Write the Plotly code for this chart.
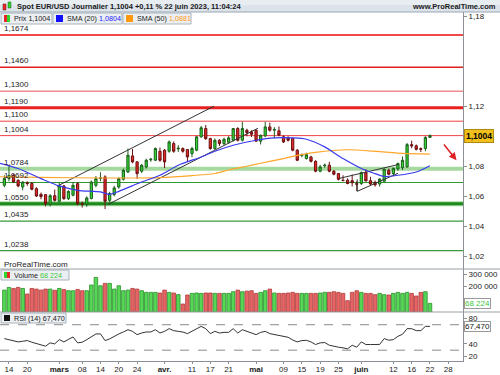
import plotly.graph_objects as go
import pandas as pd

# ---------------- data ----------------
start_date = "2023-02-13"
end_date = "2023-06-22"

opens = [1.0673,1.0718,1.0740,1.0707,1.0662,1.0690,1.0685,1.0651,1.0613,1.0611,
         1.0549,1.0604,1.0567,1.0669,1.0584,1.0607,1.0684,1.0551,1.0549,1.0585,
         1.0673,1.0718,1.0729,1.0573,1.0611,1.0662,1.0713,1.0762,1.0869,1.0829,
         1.0767,1.0795,1.0843,1.0840,1.0900,1.0907,1.0900,1.0951,1.0915,1.0918,
         1.0911,1.0884,1.0907,1.0996,1.1051,1.0984,1.0918,1.0973,1.0951,1.0960,
         1.0973,1.1051,1.0973,1.1040,1.1029,1.1040,1.0967,1.1002,1.1062,1.1040,
         1.1036,1.0996,1.0989,1.0984,1.0907,1.0872,1.0851,1.0862,1.0833,1.0767,
         1.0803,1.0807,1.0767,1.0751,1.0707,1.0707,1.0704,1.0685,1.0685,1.0758,
         1.0704,1.0693,1.0682,1.0700,1.0773,1.0751,1.0782,1.0790,1.0796,1.0944,
         1.0936,1.0918,1.0918,1.0992]
highs = [1.0740,1.0805,1.0748,1.0712,1.0700,1.0700,1.0695,1.0660,1.0625,1.0615,
         1.0615,1.0645,1.0690,1.0675,1.0640,1.0695,1.0695,1.0565,1.0600,1.0705,
         1.0735,1.0760,1.0740,1.0630,1.0670,1.0725,1.0785,1.0918,1.0915,1.0835,
         1.0815,1.0850,1.0855,1.0925,1.0925,1.0915,1.0972,1.0965,1.0940,1.0925,
         1.0915,1.0930,1.1000,1.1068,1.1075,1.0990,1.0985,1.0980,1.0990,1.1000,
         1.1055,1.1060,1.1096,1.1050,1.1040,1.1045,1.1010,1.1096,1.1090,1.1060,
         1.1065,1.1005,1.1000,1.0990,1.0915,1.0885,1.0890,1.0870,1.0840,1.0810,
         1.0818,1.0830,1.0775,1.0755,1.0740,1.0720,1.0745,1.0700,1.0765,1.0780,
         1.0730,1.0705,1.0720,1.0785,1.0785,1.0790,1.0825,1.0865,1.0955,1.0970,
         1.0945,1.0925,1.1000,1.1012]
lows = [1.0660,1.0700,1.0690,1.0660,1.0640,1.0670,1.0640,1.0595,1.0580,1.0533,
        1.0532,1.0565,1.0560,1.0577,1.0575,1.0600,1.0540,1.0525,1.0530,1.0580,
        1.0660,1.0700,1.0515,1.0560,1.0600,1.0650,1.0705,1.0755,1.0820,1.0715,
        1.0755,1.0785,1.0830,1.0835,1.0830,1.0788,1.0890,1.0890,1.0895,1.0890,
        1.0830,1.0860,1.0900,1.0990,1.0975,1.0910,1.0910,1.0935,1.0940,1.0950,
        1.0965,1.0965,1.0965,1.1000,1.0995,1.0965,1.0945,1.0995,1.1030,1.0985,
        1.1000,1.0955,1.0965,1.0900,1.0835,1.0860,1.0845,1.0825,1.0760,1.0760,
        1.0790,1.0760,1.0740,1.0705,1.0700,1.0680,1.0665,1.0635,1.0675,1.0700,
        1.0675,1.0665,1.0665,1.0695,1.0740,1.0735,1.0770,1.0775,1.0790,1.0920,
        1.0905,1.0895,1.0900,1.0990]
closes = [1.0718,1.0738,1.0695,1.0669,1.0695,1.0685,1.0647,1.0602,1.0598,1.0551,
          1.0604,1.0573,1.0669,1.0584,1.0633,1.0673,1.0551,1.0548,1.0589,1.0695,
          1.0718,1.0722,1.0567,1.0618,1.0656,1.0718,1.0773,1.0873,1.0829,1.0751,
          1.0807,1.0840,1.0847,1.0918,1.0840,1.0829,1.0962,1.0900,1.0920,1.0900,
          1.0862,1.0918,1.0996,1.1056,1.0984,1.0918,1.0973,1.0951,1.0980,1.0989,
          1.1051,1.0973,1.1051,1.1024,1.1013,1.0967,1.1007,1.1062,1.1040,1.1045,
          1.1007,1.0962,1.0973,1.0907,1.0840,1.0876,1.0878,1.0833,1.0767,1.0796,
          1.0807,1.0767,1.0747,1.0713,1.0705,1.0685,1.0690,1.0680,1.0758,1.0702,
          1.0682,1.0676,1.0715,1.0780,1.0747,1.0787,1.0818,1.0840,1.0944,1.0936,
          1.0913,1.0913,1.0992,1.1004]
volumes = [173000,194000,186000,194000,186000,142000,186000,181000,173000,181000,
           181000,171000,186000,178000,168000,168000,178000,168000,168000,213000,
           273000,207000,226000,226000,181000,207000,168000,173000,186000,181000,
           168000,155000,155000,155000,150000,173000,155000,150000,137000,63000,
           134000,147000,150000,147000,150000,150000,147000,147000,147000,147000,
           160000,173000,160000,165000,168000,147000,155000,168000,181000,150000,
           147000,147000,150000,155000,147000,147000,147000,147000,147000,150000,
           155000,155000,160000,155000,147000,89000,155000,168000,155000,147000,
           147000,137000,147000,137000,134000,147000,155000,147000,155000,147000,
           126000,155000,160000,68224]
rsi = [48.2,46.1,44.5,43.0,44.0,45.1,42.5,40.5,38.9,36.3,
       41.5,39.9,46.6,43.0,47.0,50.8,41.5,42.5,46.6,50.5,
       55.5,55.5,45.1,47.7,51.8,55.5,58.6,62.2,59.6,54.4,
       57.0,58.6,58.6,62.2,57.0,59.6,63.8,60.7,59.6,58.5,
       56.0,59.6,63.8,67.4,63.8,56.0,59.6,57.0,58.0,58.0,
       63.8,57.0,62.2,59.6,57.0,54.4,58.0,59.6,56.0,54.4,
       53.0,51.8,50.3,46.0,43.0,45.1,45.5,43.0,38.9,41.5,
       42.0,37.8,36.0,34.7,33.7,32.1,37.8,34.7,43.0,38.9,
       38.9,38.5,39.0,48.2,45.6,46.6,51.8,55.0,63.8,63.8,
       60.7,60.7,67.4,67.47]

sma20_idx = [-1, 3, 8, 12, 16, 21, 23, 25, 30, 34, 38, 43, 46, 50, 55, 59, 63, 66, 70, 74, 78, 81, 83, 86, 90, 93]
sma20_val = [1.0820, 1.0785, 1.0718, 1.0669, 1.0640, 1.0629, 1.0613, 1.0633, 1.0695, 1.0740, 1.0807,
             1.0862, 1.0900, 1.0940, 1.0973, 1.0989, 1.0989, 1.0980, 1.0929, 1.0851, 1.0785, 1.0751,
             1.0732, 1.0740, 1.0762, 1.0804]
sma50_idx = [-1, 8, 21, 34, 41, 46, 49, 53, 56, 61, 64, 68, 75, 82, 87, 93]
sma50_val = [1.0730, 1.0726, 1.0722, 1.0725, 1.0738, 1.0752, 1.0775, 1.0800, 1.0820, 1.0851,
             1.0872, 1.0893, 1.0910, 1.0897, 1.0886, 1.0881]

support_levels = [1.1674, 1.1460, 1.1300, 1.1190, 1.1100, 1.1004, 1.0784, 1.0692, 1.0550, 1.0435, 1.0238]
support_labels = ["1,1674", "1,1460", "1,1300", "1,1190", "1,1100", "1,1004", "1,0784", "1,0692", "1,0550", "1,0435", "1,0238"]

# trendlines (candle index, price)
trend_lines = {
    "channel_up": ([11.5, 45.8], [1.0667, 1.1200]),
    "channel_low": ([22.6, 55.4], [1.0545, 1.1053]),
    "tri_top": ([73.3, 86.0], [1.0720, 1.0811]),
    "tri_bot": ([77.1, 86.0], [1.0633, 1.0753]),
    "tri_side": ([77.1, 77.1], [1.0633, 1.0713]),
}
arrow_from = (95.8, 1.0955)
arrow_to = (98.8, 1.0840)

tick_dates = ["2023-02-14", "2023-02-20", "2023-03-01", "2023-03-08", "2023-03-14", "2023-03-20",
              "2023-03-24", "2023-04-03", "2023-04-11", "2023-04-17", "2023-04-21", "2023-05-01",
              "2023-05-09", "2023-05-15", "2023-05-19", "2023-05-25", "2023-06-01", "2023-06-12",
              "2023-06-16", "2023-06-22", "2023-06-28"]
tick_text = ["14", "20", "<b>mars</b>", "08", "14", "20", "24", "<b>avr.</b>", "11", "17", "21",
             "<b>mai</b>", "09", "15", "19", "25", "<b>juin</b>", "12", "16", "22", "28"]

# ticks hidden behind the value boxes in the reference keep their mark but no text
price_ticks = [1.02, 1.04, 1.06, 1.08, 1.12, 1.18]
price_tick_text = ["1,02", "1,04", "1,06", "1,08", "1,12", "1,18"]
vol_ticks = [100000, 200000, 300000]
vol_tick_text = ["", "200 000", "300 000"]
rsi_ticks = [20, 40, 60, 80]
rsi_tick_text = ["20", "40", "", "80"]

# ---------------- geometry helpers ----------------
W, H = 500, 375
ML, MR, MT, MB = 0, 37, 12, 14
PW, PH = W - ML - MR, H - MT - MB


def px(x):
    return (x - ML) / PW


def py(y):
    return (H - MB - y) / PH


dates = pd.bdate_range(start_date, end_date)
xi = list(range(len(dates)))
ext = pd.bdate_range(start_date, "2023-08-31")
pos = {d.strftime("%Y-%m-%d"): i for i, d in enumerate(ext)}
tick_vals = [pos[d] for d in tick_dates]

font_family = "Liberation Sans, Arial, sans-serif"
GREEN = "#2ed62e"
RED = "#e82828"

fig = go.Figure()

# support / resistance lines
line_styles = {
    1.1674: ("#f04a4a", 2), 1.1460: ("#e02020", 1.5), 1.1300: ("#f05050", 1),
    1.1190: ("#e82020", 3), 1.1100: ("#f04040", 1), 1.1004: ("#f04040", 1),
    1.0784: ("#a6d9a0", 4), 1.0692: ("#2f9a2f", 1.2), 1.0550: ("#1e8a1e", 3),
    1.0435: ("#3a9a3a", 1.2), 1.0238: ("#3a9a3a", 1.2),
}
shapes = []
annotations = []
for lv, lab in zip(support_levels, support_labels):
    c, w = line_styles[lv]
    if lv == 1.0550:
        shapes.append(dict(type="line", xref="paper", yref="y", x0=0, x1=1, y0=lv, y1=lv,
                           line=dict(color="#a6d9a0", width=5), layer="below"))
    shapes.append(dict(type="line", xref="paper", yref="y", x0=0, x1=1, y0=lv, y1=lv,
                       line=dict(color=c, width=w), layer="below"))
    annotations.append(dict(x=px(2), y=lv, xref="paper", yref="y", text=lab, showarrow=False,
                            xanchor="left", yanchor="bottom", yshift=0,
                            font=dict(size=8, color="#222", family=font_family)))

# trendlines
for name, (tx, ty) in trend_lines.items():
    fig.add_trace(go.Scatter(x=tx, y=ty, mode="lines", line=dict(color="#333333", width=1),
                             hoverinfo="skip", showlegend=False, xaxis="x", yaxis="y"))

# moving averages
fig.add_trace(go.Scatter(x=sma50_idx, y=sma50_val, mode="lines",
                         line=dict(color="#ffa62b", width=1.2, shape="spline", smoothing=0.8),
                         showlegend=False, xaxis="x", yaxis="y"))
fig.add_trace(go.Scatter(x=sma20_idx, y=sma20_val, mode="lines",
                         line=dict(color="#3a3aee", width=1.2, shape="spline", smoothing=0.8),
                         showlegend=False, xaxis="x", yaxis="y"))

# candles
fig.add_trace(go.Candlestick(x=xi, open=opens, high=highs, low=lows, close=closes,
                             increasing=dict(line=dict(color="#1f5f1f", width=1), fillcolor=GREEN),
                             decreasing=dict(line=dict(color="#6a1010", width=1), fillcolor=RED),
                             whiskerwidth=0, showlegend=False, xaxis="x", yaxis="y"))

# volume
vcol = ["#56d856" if c >= o else "#e66464" for o, c in zip(opens, closes)]
vline = ["#2a8f2a" if c >= o else "#b23a3a" for o, c in zip(opens, closes)]
fig.add_trace(go.Bar(x=xi, y=volumes, marker=dict(color=vcol, line=dict(color=vline, width=0.8)),
                     width=0.78, showlegend=False, xaxis="x2", yaxis="y2"))

# RSI
fig.add_trace(go.Scatter(x=xi, y=rsi, mode="lines", line=dict(color="#333333", width=1),
                         showlegend=False, xaxis="x3", yaxis="y3"))
for lv in (70, 30):
    shapes.append(dict(type="line", xref="paper", yref="y3", x0=0, x1=1, y0=lv, y1=lv,
                       line=dict(color="#8a8a8a", width=1, dash="dash"), layer="below"))

# arrow
annotations.append(dict(x=arrow_to[0], y=arrow_to[1], ax=arrow_from[0], ay=arrow_from[1],
                        xref="x", yref="y", axref="x", ayref="y", showarrow=True, text="",
                        arrowhead=2, arrowsize=1, arrowwidth=1.5, arrowcolor="#e02020"))

# header bar
shapes.append(dict(type="rect", xref="paper", yref="paper", x0=px(0), x1=px(500), y0=py(12), y1=py(0),
                   fillcolor="#dce3ea", line=dict(width=0), layer="above"))
shapes.append(dict(type="rect", xref="paper", yref="paper", x0=px(0), x1=px(500), y0=py(5), y1=py(0),
                   fillcolor="#e8edf2", line=dict(width=0), layer="above"))
shapes.append(dict(type="line", xref="paper", yref="paper", x0=px(0), x1=px(500), y0=py(12), y1=py(12),
                   line=dict(color="#9aa6b2", width=1), layer="above"))
# header icon
shapes.append(dict(type="rect", xref="paper", yref="paper", x0=px(3), x1=px(6), y0=py(10), y1=py(4),
                   fillcolor=RED, line=dict(color="#6a1010", width=0.5), layer="above"))
shapes.append(dict(type="rect", xref="paper", yref="paper", x0=px(8), x1=px(11), y0=py(8), y1=py(2),
                   fillcolor=GREEN, line=dict(color="#1f5f1f", width=0.5), layer="above"))
annotations.append(dict(x=px(15), y=py(6.5), xref="paper", yref="paper", xanchor="left", yanchor="middle",
                        showarrow=False,
                        text="<b>Spot EUR/USD Journalier 1,1004 +0,11 % 22 juin 2023, 11:04:24</b>",
                        font=dict(size=7.5, color="#1a1a1a", family=font_family)))
annotations.append(dict(x=px(498), y=py(6.5), xref="paper", yref="paper", xanchor="right", yanchor="middle",
                        showarrow=False, text="<b>www.ProRealTime.com</b>",
                        font=dict(size=7.5, color="#1a1a1a", family=font_family)))

# legend boxes (price panel)
def legend_box(x0, x1, y0, y1):
    shapes.append(dict(type="rect", xref="paper", yref="paper", x0=px(x0), x1=px(x1), y0=py(y1), y1=py(y0),
                       fillcolor="#eceff2", line=dict(color="#a8b2bc", width=1), layer="above"))


legend_box(1, 52, 13, 24)
legend_box(53, 122, 13, 24)
legend_box(123, 191, 13, 24)
shapes.append(dict(type="rect", xref="paper", yref="paper", x0=px(4), x1=px(7), y0=py(22), y1=py(15),
                   fillcolor=RED, line=dict(width=0), layer="above"))
shapes.append(dict(type="rect", xref="paper", yref="paper", x0=px(7), x1=px(10), y0=py(22), y1=py(15),
                   fillcolor=GREEN, line=dict(width=0), layer="above"))
shapes.append(dict(type="rect", xref="paper", yref="paper", x0=px(56), x1=px(63), y0=py(22), y1=py(15),
                   fillcolor="#1010ff", line=dict(width=0), layer="above"))
shapes.append(dict(type="rect", xref="paper", yref="paper", x0=px(126), x1=px(133), y0=py(22), y1=py(15),
                   fillcolor="#ff9a10", line=dict(width=0), layer="above"))
lab_font = dict(size=7.2, color="#1a1a1a", family=font_family)
annotations += [
    dict(x=px(12), y=py(18.5), xref="paper", yref="paper", xanchor="left", yanchor="middle", showarrow=False,
         text="Prix 1,1004", font=lab_font),
    dict(x=px(65), y=py(18.5), xref="paper", yref="paper", xanchor="left", yanchor="middle", showarrow=False,
         text="SMA (20) <span style='color:#2020ff'>1,0804</span>", font=lab_font),
    dict(x=px(135), y=py(18.5), xref="paper", yref="paper", xanchor="left", yanchor="middle", showarrow=False,
         text="SMA (50) <span style='color:#ff9a10'>1,0881</span>", font=lab_font),
    dict(x=px(2), y=py(264), xref="paper", yref="paper", xanchor="left", yanchor="middle", showarrow=False,
         text="ProRealTime.com", font=dict(size=8, color="#222", family=font_family)),
]

# volume legend
legend_box(1, 69, 270, 280)
shapes.append(dict(type="rect", xref="paper", yref="paper", x0=px(4), x1=px(7), y0=py(278), y1=py(272),
                   fillcolor=GREEN, line=dict(width=0), layer="above"))
shapes.append(dict(type="rect", xref="paper", yref="paper", x0=px(7), x1=px(10), y0=py(278), y1=py(272),
                   fillcolor=RED, line=dict(width=0), layer="above"))
annotations.append(dict(x=px(12), y=py(275), xref="paper", yref="paper", xanchor="left", yanchor="middle",
                        showarrow=False, text="Volume <span style='color:#3cc83c'>68 224</span>", font=lab_font))
# RSI legend
legend_box(1, 66, 313, 323)
shapes.append(dict(type="rect", xref="paper", yref="paper", x0=px(4), x1=px(10), y0=py(321), y1=py(315),
                   fillcolor="#111", line=dict(width=0), layer="above"))
annotations.append(dict(x=px(12), y=py(318), xref="paper", yref="paper", xanchor="left", yanchor="middle",
                        showarrow=False, text="RSI (14) 67,470", font=lab_font))

# panel separators
for yy in (269, 312):
    shapes.append(dict(type="line", xref="paper", yref="paper", x0=px(0), x1=px(500), y0=py(yy), y1=py(yy),
                       line=dict(color="#9aa0a6", width=1), layer="above"))

# value boxes on right axis
annotations.append(dict(x=1, y=closes[-1], xref="paper", yref="y", xanchor="left", yanchor="middle",
                        showarrow=False, text="<b>1,1004</b>", bgcolor="#f2c01c", bordercolor="#b08a10",
                        borderwidth=1, borderpad=1, xshift=1,
                        font=dict(size=8.5, color="#000", family=font_family)))
annotations.append(dict(x=1, y=volumes[-1], xref="paper", yref="y2", xanchor="left", yanchor="middle",
                        showarrow=False, text="68 224", bgcolor="#ffffff", bordercolor="#9a9a9a",
                        borderwidth=1, borderpad=0, xshift=1,
                        font=dict(size=8, color="#3cc83c", family=font_family)))
annotations.append(dict(x=1, y=rsi[-1], xref="paper", yref="y3", xanchor="left", yanchor="middle",
                        showarrow=False, text="67,470", bgcolor="#ffffff", bordercolor="#9a9a9a",
                        borderwidth=1, borderpad=0, xshift=1,
                        font=dict(size=8, color="#111", family=font_family)))

xr = [-0.96, (PW - 4.4) / 4.576]
axis_font = dict(size=8, color="#222", family=font_family)
common_x = dict(range=xr, showgrid=False, zeroline=False, showline=False, ticks="",
                showticklabels=False, rangeslider=dict(visible=False), automargin=False)
common_y = dict(side="right", showgrid=False, zeroline=False, showline=True, linecolor="#8a9096",
                linewidth=1, ticks="outside", ticklen=3, tickcolor="#8a9096", tickfont=axis_font,
                fixedrange=True, automargin=False)

fig.update_layout(
    template="none",
    width=W, height=H,
    margin=dict(l=ML, r=MR, t=MT, b=MB, pad=0, autoexpand=False),
    paper_bgcolor="white", plot_bgcolor="white",
    showlegend=False,
    xaxis=dict(**common_x, anchor="y"),
    xaxis2=dict(**common_x, anchor="y2", matches="x"),
    xaxis3=dict(range=xr, showgrid=False, zeroline=False, showline=True, linecolor="#8a9096",
                ticks="outside", ticklen=2, tickcolor="#8a9096", tickvals=tick_vals, ticktext=tick_text,
                tickfont=axis_font, anchor="y3", matches="x", tickangle=0, automargin=False,
                ticklabelstandoff=-2),
    yaxis=dict(**common_y, domain=[py(269), 1], range=[1.0116, 1.1827], tickvals=price_ticks,
               ticktext=price_tick_text, anchor="x"),
    yaxis2=dict(**common_y, domain=[py(312), py(269)], range=[0, 339500], tickvals=vol_ticks,
                ticktext=vol_tick_text, anchor="x2"),
    yaxis3=dict(**common_y, domain=[0, py(312)], range=[13, 90], tickvals=rsi_ticks,
                ticktext=rsi_tick_text, anchor="x3"),
    shapes=shapes,
    annotations=annotations,
    font=dict(family=font_family, size=8),
)

fig.write_html("out.html", config={"displayModeBar": False},
               post_script="document.body.style.margin='0px';document.body.style.padding='0px';document.body.style.overflow='hidden';")
